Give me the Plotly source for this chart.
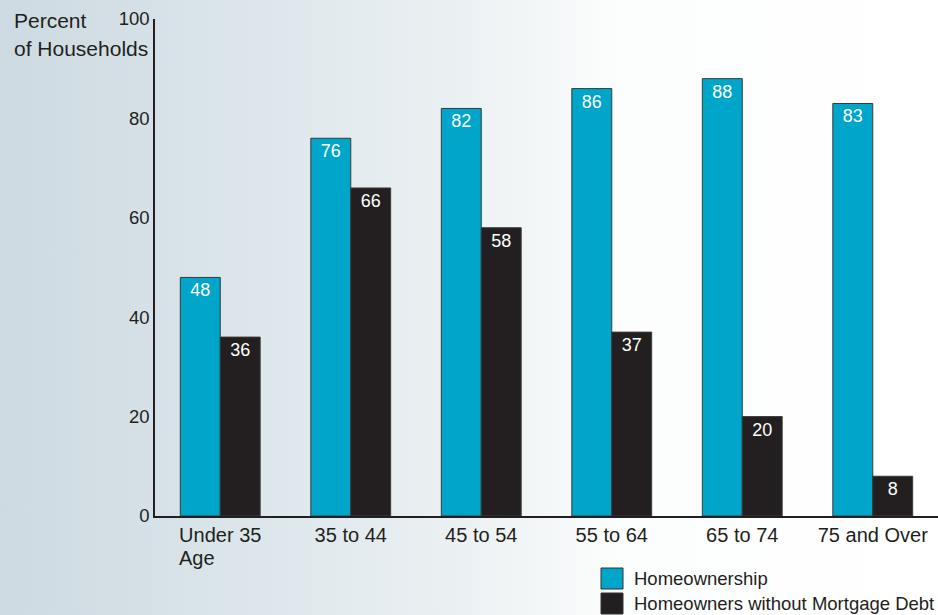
import base64
import plotly.graph_objects as go

# ---- data ----
categories = ["Under 35", "35 to 44", "45 to 54", "55 to 64", "65 to 74", "75 and Over"]
homeownership = [48, 76, 82, 86, 88, 83]
no_mortgage_debt = [36, 66, 58, 37, 20, 8]
y_ticks = [0, 20, 40, 60, 80, 100]
series_names = ["Homeownership", "Homeowners without Mortgage Debt"]

# ---- geometry / style ----
W, H = 938, 615
L, R, T, B = 155, 0, 19, 99
PW, PH = W - L - R, H - T - B
BLUE = "#00a5ca"
BLACK = "#231f20"
TXT = "#231f20"
FONT = "Liberation Sans, Arial, sans-serif"


def fx(px):
    return (px - L) / PW


def fy(py):
    return (H - B - py) / PH


fig = go.Figure()
for name, vals, col in [(series_names[0], homeownership, BLUE),
                        (series_names[1], no_mortgage_debt, BLACK)]:
    fig.add_bar(
        x=categories, y=vals, name=name,
        marker=dict(color=col, line=dict(color="#3a3a3a", width=1)),
        text=[str(v) for v in vals], textposition="inside",
        insidetextanchor="end", textangle=0,
        textfont=dict(color="white", size=18, family=FONT),
        hoverinfo="skip",
    )

svg = (
    f'<svg xmlns="http://www.w3.org/2000/svg" width="{W}" height="{H}" '
    f'viewBox="0 0 {W} {H}" preserveAspectRatio="none">'
    '<defs><linearGradient id="g" x1="0" y1="0" x2="1" y2="0">'
    '<stop offset="0" stop-color="#cddae1"/>'
    '<stop offset="0.25" stop-color="#dbe5ea"/>'
    '<stop offset="0.5" stop-color="#ecf1f3"/>'
    '<stop offset="0.66" stop-color="#fcfdfd"/>'
    '<stop offset="1" stop-color="#ffffff"/>'
    '</linearGradient></defs>'
    f'<rect x="0" y="0" width="{W}" height="{H}" fill="url(#g)"/></svg>'
)
src = "data:image/svg+xml;base64," + base64.b64encode(svg.encode()).decode()

shapes = []
annotations = [
    dict(text="Percent", x=fx(12), y=fy(20), xref="paper", yref="paper",
         xanchor="left", yanchor="middle", showarrow=False,
         font=dict(size=21, color=TXT, family=FONT)),
    dict(text="of Households", x=fx(12), y=fy(49), xref="paper", yref="paper",
         xanchor="left", yanchor="middle", showarrow=False,
         font=dict(size=21, color=TXT, family=FONT)),
    dict(text="Age", x=fx(177), y=fy(558), xref="paper", yref="paper",
         xanchor="left", yanchor="middle", showarrow=False,
         font=dict(size=20, color=TXT, family=FONT)),
]
for i, (name, col) in enumerate(zip(series_names, [BLUE, BLACK])):
    top = 568 + i * 25
    shapes.append(dict(type="rect", xref="paper", yref="paper",
                       x0=fx(601), x1=fx(623), y0=fy(top), y1=fy(top + 21),
                       fillcolor=col, line=dict(color="#333333", width=1)))
    annotations.append(dict(text=name, x=fx(632), y=fy(top + 10.5),
                            xref="paper", yref="paper", xanchor="left",
                            yanchor="middle", showarrow=False,
                            font=dict(size=18.5, color=TXT, family=FONT)))

fig.update_layout(
    width=W, height=H,
    margin=dict(l=L, r=R, t=T, b=B, pad=0),
    barmode="group", bargap=0.388, bargroupgap=0,
    showlegend=False,
    paper_bgcolor="white", plot_bgcolor="rgba(0,0,0,0)",
    font=dict(family=FONT, size=18, color=TXT),
    images=[dict(source=src, xref="paper", yref="paper",
                 x=fx(0), y=fy(0), sizex=W / PW, sizey=H / PH,
                 xanchor="left", yanchor="top", sizing="stretch",
                 layer="below")],
    shapes=shapes, annotations=annotations,
    uniformtext=dict(mode=False),
)
fig.update_xaxes(
    range=[-0.5, 5.5], showline=True, linecolor="#231f20", linewidth=1.5,
    showgrid=False, zeroline=False, ticks="",
    tickfont=dict(size=20, color=TXT, family=FONT), fixedrange=True,
)
fig.update_yaxes(
    range=[0, 100], tickvals=y_ticks, showline=True, linecolor="#231f20",
    linewidth=1.5, showgrid=False, zeroline=False, ticks="",
    ticklabelstandoff=0,
    tickfont=dict(size=18.5, color=TXT, family=FONT), fixedrange=True,
)

fig.write_html("out.html", config={"displayModeBar": False})
